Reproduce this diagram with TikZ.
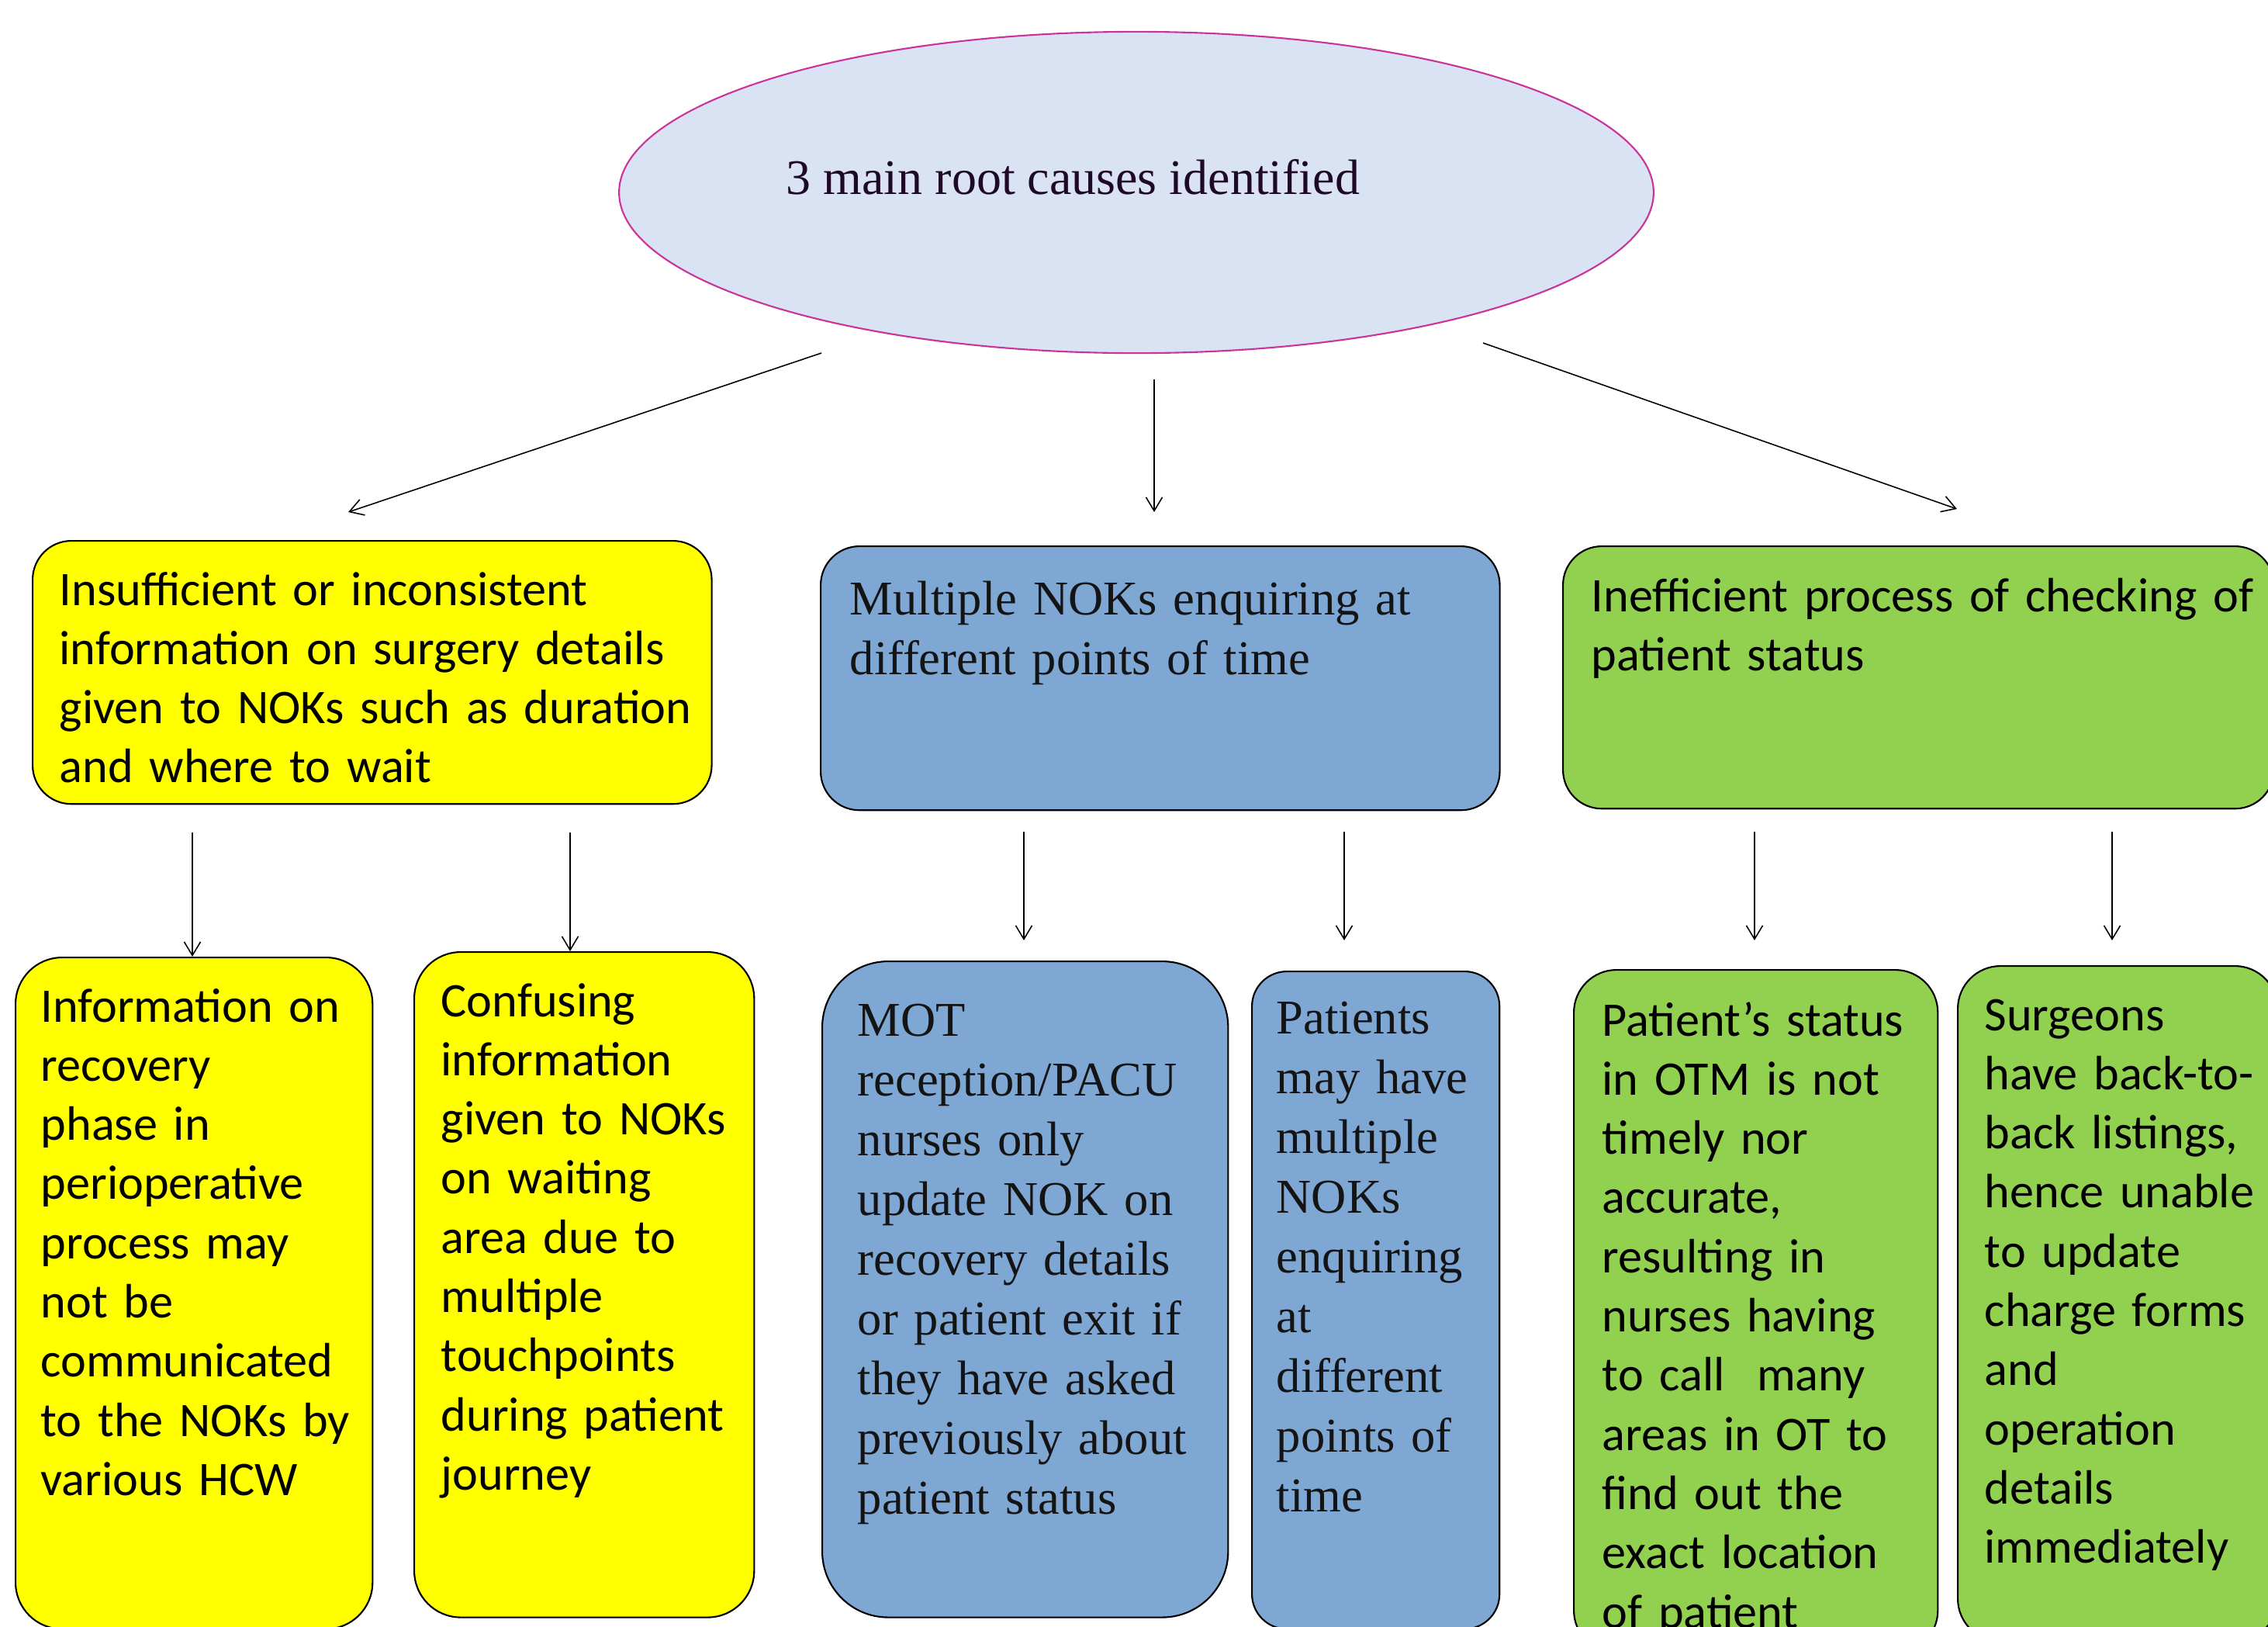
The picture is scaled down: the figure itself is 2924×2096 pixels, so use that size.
\documentclass[tikz,border=0pt]{standalone}
\usepackage{fontspec}
\setmainfont{Liberation Serif}
\newfontfamily\cabfont{Carlito}
\usetikzlibrary{arrows.meta,calc,shapes.geometric}

\definecolor{rootfill}{RGB}{218,227,243}
\definecolor{rootline}{RGB}{204,51,153}
\definecolor{rootink}{RGB}{30,10,40}
\definecolor{ylw}{RGB}{255,255,0}
\definecolor{blu}{RGB}{126,167,212}
\definecolor{grn}{RGB}{146,208,80}

\begin{document}
\begin{tikzpicture}[x=0.01cm, y=-0.01cm,
	cbox/.style={draw=black, line width=0.6pt, anchor=north west, inner sep=0pt},
	ctxt/.style={anchor=base west, inner sep=0pt, text width=12cm, align=left, font=\cabfont\fontsize{17.7}{21.7}\selectfont},
	stxt/.style={anchor=base west, inner sep=0pt, text width=12cm, align=left, font=\fontsize{17.8}{21.9}\selectfont, text=black!92},
	arr/.style={line width=0.45pt, -{Straight Barb[length=5pt,width=6pt]}}]

		\useasboundingbox (0,0) rectangle (2924,2096);
		\clip (0,0) rectangle (2924,2096);

		% root
		\node[ellipse, draw=rootline, fill=rootfill, line width=0.6pt, minimum width=13.33cm, minimum height=4.14cm, inner sep=0pt] (root) at (1465,248) {};
		\node[anchor=base west, inner sep=0pt, text=rootink, font=\fontsize{18.2}{21.9}\selectfont] (root-t) at (1013,250) {3 main root causes identified};

		% causes
		\node[cbox, fill=ylw, rounded corners=0.5cm, minimum width=8.75cm, minimum height=3.39cm] (ya) at (41,696) {};
		\node[cbox, fill=blu, rounded corners=0.5cm, minimum width=8.75cm, minimum height=3.40cm] (ba) at (1057,703) {};
		\node[cbox, fill=grn, rounded corners=0.5cm, minimum width=9.16cm, minimum height=3.38cm] (ga) at (2014,703) {};

		\node[ctxt] (ya-t) at ($(ya.north west)+(35,84)$) {Insufficient or inconsistent\\ information on surgery details\\ given to NOKs such as duration\\ and where to wait};
		\node[stxt] (ba-t) at ($(ba.north west)+(38,89)$) {Multiple NOKs enquiring at\\ different points of time};
		\node[ctxt] (ga-t) at ($(ga.north west)+(37,85)$) {Inefficient process of checking of\\ patient status};

		% details
		\node[cbox, fill=ylw, rounded corners=0.6cm, minimum width=4.60cm, minimum height=8.65cm] (y1) at (19,1233) {};
		\node[cbox, fill=ylw, rounded corners=0.6cm, minimum width=4.38cm, minimum height=8.57cm] (y2) at (533,1226) {};
		\node[cbox, fill=blu, rounded corners=0.85cm, minimum width=5.23cm, minimum height=8.45cm] (b1) at (1059,1238) {};
		\node[cbox, fill=blu, rounded corners=0.45cm, minimum width=3.19cm, minimum height=8.47cm] (b2) at (1613,1251) {};
		\node[cbox, fill=grn, rounded corners=0.55cm, minimum width=4.69cm, minimum height=8.80cm] (g1) at (2028,1249) {};
		\node[cbox, fill=grn, rounded corners=0.55cm, minimum width=4.12cm, minimum height=8.70cm] (g2) at (2523,1244) {};

		\node[ctxt] (y1-t) at ($(y1.north west)+(33,84)$) {Information on\\ recovery\\ phase in\\ perioperative\\ process may\\ not be\\ communicated\\ to the NOKs by\\ various HCW};
		\node[ctxt] (y2-t) at ($(y2.north west)+(35,84)$) {Confusing\\ information\\ given to NOKs\\ on waiting\\ area due to\\ multiple\\ touchpoints\\ during patient\\ journey};
		\node[stxt] (b1-t) at ($(b1.north west)+(46,97)$) {MOT\\ reception/PACU\\ nurses only\\ update NOK on\\ recovery details\\ or patient exit if\\ they have asked\\ previously about\\ patient status};
		\node[stxt] (b2-t) at ($(b2.north west)+(32,81)$) {Patients\\ may have\\ multiple\\ NOKs\\ enquiring\\ at\\ different\\ points of\\ time};
		\node[ctxt] (g1-t) at ($(g1.north west)+(37,86)$) {Patient’s status\\ in OTM is not\\ timely nor\\ accurate,\\ resulting in\\ nurses having\\ to call~ many\\ areas in OT to\\ find out the\\ exact location\\ of patient};
		\node[ctxt] (g2-t) at ($(g2.north west)+(35,84)$) {Surgeons\\ have back-to-\\ back listings,\\ hence unable\\ to update\\ charge forms\\ and\\ operation\\ details\\ immediately};

		% arrows from the root
		\coordinate (r1) at (1059,455);
		\coordinate (r2) at (1488,489);
		\coordinate (r3) at (1912,442);
		\draw[arr] (r1) -- (449,660);
		\draw[arr] (r2) -- (1488,660);
		\draw[arr] (r3) -- (2523,656);

		% arrows to the details
		\coordinate (d1) at (248,1073);
		\coordinate (d2) at (735,1073);
		\coordinate (d3) at (1320,1072);
		\coordinate (d4) at (1733,1072);
		\coordinate (d5) at (2262,1072);
		\coordinate (d6) at (2723,1072);
		\draw[arr] (d1) -- (d1 |- y1.north);
		\draw[arr] (d2) -- (d2 |- y2.north);
		\draw[arr] (d3) -- ++(0,140);
		\draw[arr] (d4) -- ++(0,140);
		\draw[arr] (d5) -- ++(0,140);
		\draw[arr] (d6) -- ++(0,140);

	\end{tikzpicture}
\end{document}
